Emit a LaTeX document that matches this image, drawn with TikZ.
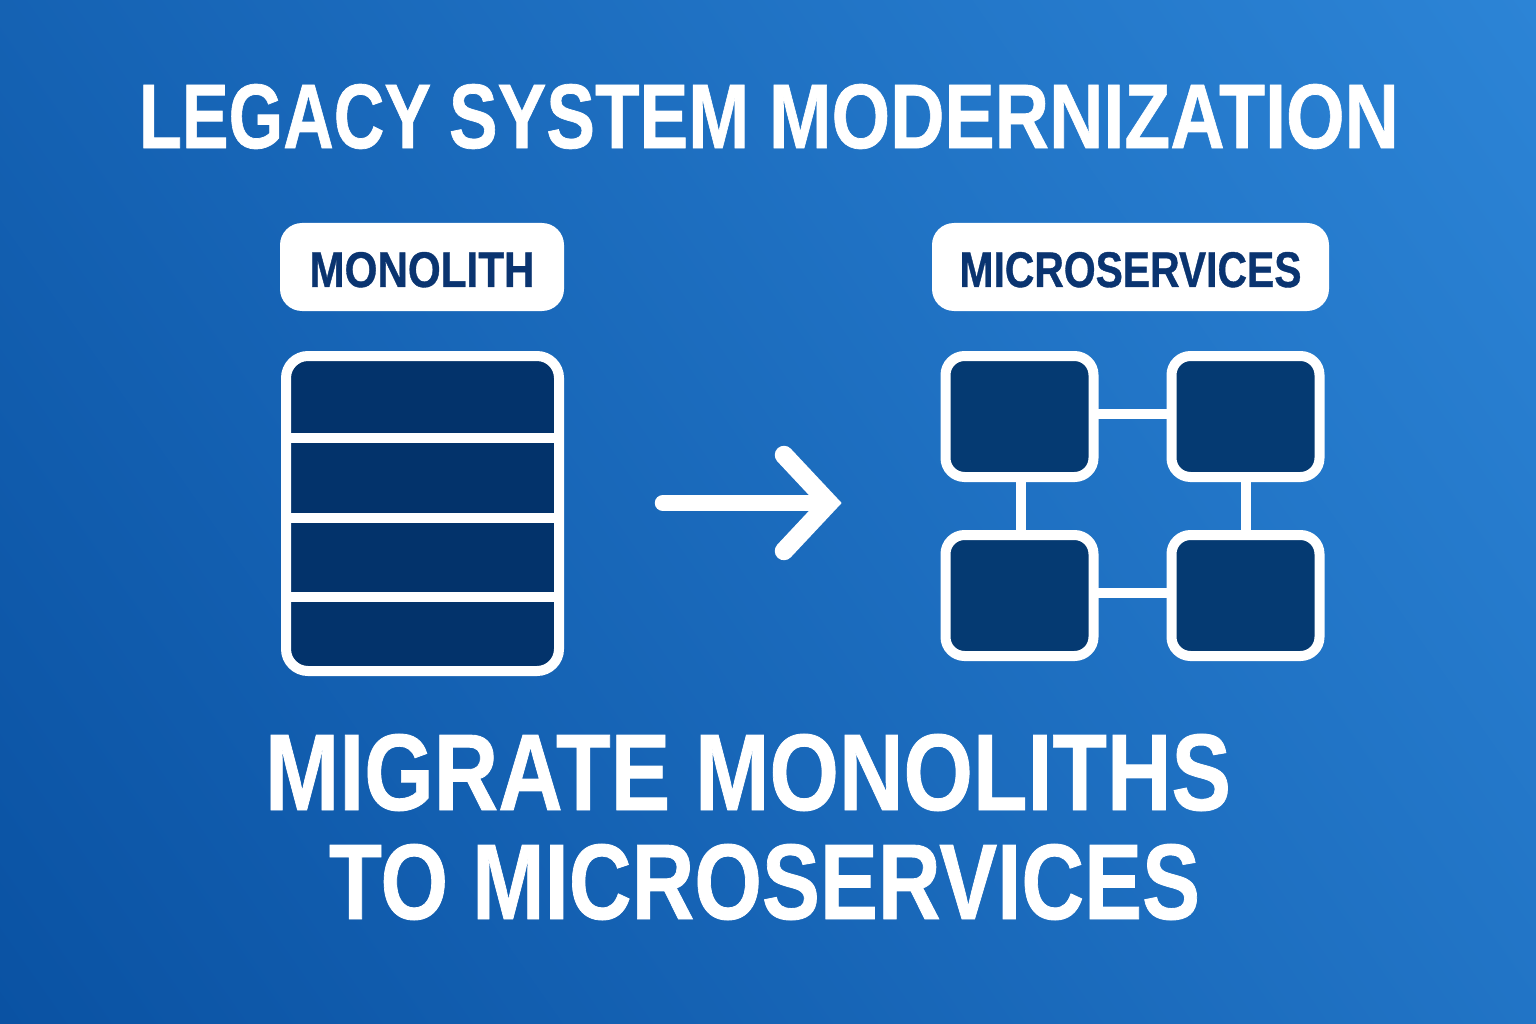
\documentclass[tikz,border=0pt]{standalone}
\usepackage{graphicx}
\usepackage{fontspec}
\setmainfont{Liberation Sans}[BoldFeatures={FakeBold=0.8}]
\definecolor{bgA}{HTML}{0A52A3}
\definecolor{bgB}{HTML}{2C84D6}
\definecolor{navyA}{HTML}{03336B}
\definecolor{navyB}{HTML}{053A72}
\definecolor{labeltext}{HTML}{0A3470}
\tikzset{
  titletext/.style={text=white,inner sep=0pt,font=\bfseries},
  labelbox/.style={fill=white,rounded corners=22pt,inner sep=0pt,minimum height=88pt,text=labeltext,font=\bfseries},
  panel/.style={draw=white,line width=10pt,inner sep=0pt,outer sep=0pt},
  service/.style={panel,fill=navyB,rounded corners=19pt,minimum width=148pt,minimum height=121pt},
  link/.style={draw=white,line width=10pt},
  bigarrow/.style={draw=white,line width=16.5pt,line cap=round}
}
\begin{document}
\begin{tikzpicture}[x=1pt,y=-1pt]
\useasboundingbox (0,0) rectangle (1536,1024);
\begin{scope}
\clip (0,0) rectangle (1536,1024);
\shade[bottom color=bgA,top color=bgB,middle color=bgA!50!bgB,shading angle=-55] (-155,-411) rectangle (1691,1435);
\end{scope}

\node[titletext] (title) at (769,116.5) {\resizebox{292pt}{64pt}{LEGACY}\hspace{15pt} \resizebox{300pt}{64pt}{SYSTEM}\hspace{17pt} \resizebox{630pt}{64pt}{MODERNIZATION}};
\node[titletext] (line1) at (748,772.5) {\resizebox{966pt}{76pt}{MIGRATE MONOLITHS}};
\node[titletext] (line2) at (764.5,882) {\resizebox{871pt}{75pt}{TO MICROSERVICES}};

\node[labelbox,minimum width=284pt] (monolabel) at (422,267) {\raisebox{-20pt}[0pt][0pt]{\resizebox{225pt}{35pt}{MONOLITH}}};
\node[labelbox,minimum width=397pt] (microlabel) at (1130.5,267) {\raisebox{-20pt}[0pt][0pt]{\resizebox{342pt}{35pt}{MICROSERVICES}}};

\node[panel,fill=navyA,rounded corners=22pt,minimum width=273pt,minimum height=315pt] (mono) at (422.5,513.5) {};
\coordinate (d1) at (0,438);
\coordinate (d2) at (0,518);
\coordinate (d3) at (0,597);
\draw[link,line width=9.5pt] (mono.west |- d1) -- (mono.east |- d1);
\draw[link,line width=9.5pt] (mono.west |- d2) -- (mono.east |- d2);
\draw[link,line width=9.5pt] (mono.west |- d3) -- (mono.east |- d3);

\node[service] (tl) at (1019.5,416.5) {};
\node[service] (tr) at (1245.5,416.5) {};
\node[service] (bl) at (1019.5,595.5) {};
\node[service] (br) at (1245.5,595.5) {};
\coordinate (h1) at (0,414);
\coordinate (h2) at (0,593);
\coordinate (v1) at (1021,0);
\coordinate (v2) at (1246,0);
\draw[link] (tl.east |- h1) -- (tr.west |- h1);
\draw[link] (bl.east |- h2) -- (br.west |- h2);
\draw[link] (tl.south -| v1) -- (bl.north -| v1);
\draw[link] (tr.south -| v2) -- (br.north -| v2);

\coordinate (tail) at (663,503);
\coordinate (shaftend) at (826,503);
\coordinate (tip) at (829,503);
\coordinate (headtop) at (784,455);
\coordinate (headbot) at (784,551);
\draw[bigarrow] (tail) -- (shaftend);
\draw[bigarrow,line width=18.5pt,line join=miter] (headtop) -- (tip) -- (headbot);
\end{tikzpicture}
\end{document}
